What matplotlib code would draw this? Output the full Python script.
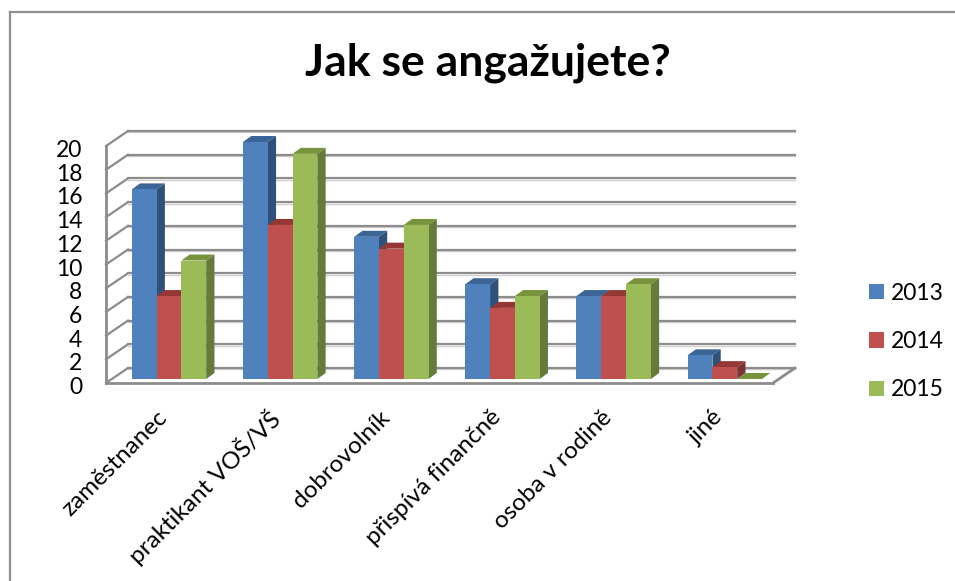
import matplotlib
matplotlib.use("Agg")
import matplotlib.pyplot as plt
from matplotlib.lines import Line2D
from matplotlib.patches import Patch, Polygon
from matplotlib.transforms import ScaledTranslation

categories = ["zaměstnanec", "praktikant VOŠ/VŠ", "dobrovolník", "přispívá finančně", "osoba v rodině", "jiné"]
years = ["2013", "2014", "2015"]
values_2013 = [16, 20, 12, 8, 7, 2]
values_2014 = [7, 13, 11, 6, 7, 1]
values_2015 = [10, 19, 13, 7, 8, 0]
y_ticks = [0, 2, 4, 6, 8, 10, 12, 14, 16, 18, 20]

front_colors = ["#4f81bd", "#c0504d", "#9bbb59"]
top_colors = ["#3a6596", "#953735", "#77933c"]
side_colors = ["#2f5079", "#7a3432", "#667a3a"]

GRID = "#8c8c8c"
SHADOW = "#cfcfcf"
W, H = 955, 581

# 3D look: all depth offsets in data units of the front plane
WALL_DX = 22 / 111.17
WALL_DY = 15 / 11.85
BAR_SHIFT_X = 7.4 / 111.17
BAR_SHIFT_Y = 4 / 11.85
BAR_DX = 8.3 / 111.17
BAR_DY = 6 / 11.85
BAR_W = 0.223

plt.rcParams["font.family"] = ["Lato", "DejaVu Sans"]

fig = plt.figure(figsize=(W / 100, H / 100), dpi=100)
ax = fig.add_axes([106 / W, 1 - 383 / H, 667 / W, 237 / H])
ax.set_xlim(0, 6)
ax.set_ylim(0, 20)
for s in ax.spines.values():
    s.set_visible(False)
ax.patch.set_visible(False)

# chart frame, open on the right and at the bottom
fig.add_artist(Line2D([10 / W, 10 / W], [0, 1 - 12 / H], color="#8f8f8f", lw=1.6))
fig.add_artist(Line2D([10 / W, 1], [1 - 12 / H, 1 - 12 / H], color="#8f8f8f", lw=1.6))

# walls
for t in y_ticks:
    ax.plot([WALL_DX, 6 + WALL_DX], [t + WALL_DY - 0.12] * 2, color=SHADOW, lw=1.0, clip_on=False, zorder=1)
    ax.plot([WALL_DX, 6 + WALL_DX], [t + WALL_DY] * 2, color=GRID, lw=1.6, clip_on=False, zorder=2)
    ax.plot([0, WALL_DX], [t, t + WALL_DY], color=GRID, lw=1.6, clip_on=False, zorder=2)
ax.plot([0, 0], [0, 20], color=GRID, lw=2.0, clip_on=False, zorder=2)
ax.plot([0, 6], [0, 0], color=GRID, lw=2.0, clip_on=False, zorder=2)
ax.plot([6, 6 + WALL_DX], [0, WALL_DY], color=GRID, lw=2.0, clip_on=False, zorder=2)

# bars
series = [values_2013, values_2014, values_2015]
z = 3
for i in range(len(categories)):
    for j, vals in enumerate(series):
        v = vals[i]
        x0 = i + 0.5 + (j - 1.5) * BAR_W + BAR_SHIFT_X
        x1 = x0 + BAR_W
        y0 = BAR_SHIFT_Y
        y1 = v + BAR_SHIFT_Y
        ax.add_patch(Polygon([(x0, y1), (x1, y1), (x1 + BAR_DX, y1 + BAR_DY), (x0 + BAR_DX, y1 + BAR_DY)],
                             facecolor=top_colors[j], edgecolor="none", clip_on=False, zorder=z))
        ax.add_patch(Polygon([(x1, y0), (x1 + BAR_DX, y0 + BAR_DY), (x1 + BAR_DX, y1 + BAR_DY), (x1, y1)],
                             facecolor=side_colors[j], edgecolor="none", clip_on=False, zorder=z))
        ax.bar(x0, v, width=BAR_W, bottom=y0, align="edge", color=front_colors[j], clip_on=False, zorder=z + 0.5)
        z += 1

ax.set_yticks(y_ticks)
ax.set_yticklabels([str(t) for t in y_ticks], fontsize=16.5, color="black")
ax.tick_params(axis="y", length=0, pad=17)
ax.set_xticks([i + 0.5 for i in range(len(categories))])
ax.set_xticklabels(categories, rotation=45, ha="right", va="top", rotation_mode="anchor", fontsize=17.5, color="black")
ax.tick_params(axis="x", length=0, pad=18)

# nudge tick labels by a few pixels
y_nudge = ScaledTranslation(0, -2.5 / 100, fig.dpi_scale_trans)
for lab in ax.get_yticklabels():
    lab.set_transform(lab.get_transform() + y_nudge)
x_nudge = ScaledTranslation(-5 / 100, 1.5 / 100, fig.dpi_scale_trans)
for lab in ax.get_xticklabels():
    lab.set_transform(lab.get_transform() + x_nudge)

fig.text(488 / W, 1 - 63 / H, "Jak se angažujete?", ha="center", va="center", fontsize=32, fontweight="bold", color="black")

handles = [Patch(facecolor=c, edgecolor="none") for c in front_colors]
fig.legend(handles, years, loc="center left", bbox_to_anchor=(848 / W, 1 - 341.5 / H), frameon=False,
           fontsize=16.5, handlelength=0.66, handleheight=0.66, handletextpad=0.3, labelspacing=1.2)

fig.savefig("out.png", dpi=100)
